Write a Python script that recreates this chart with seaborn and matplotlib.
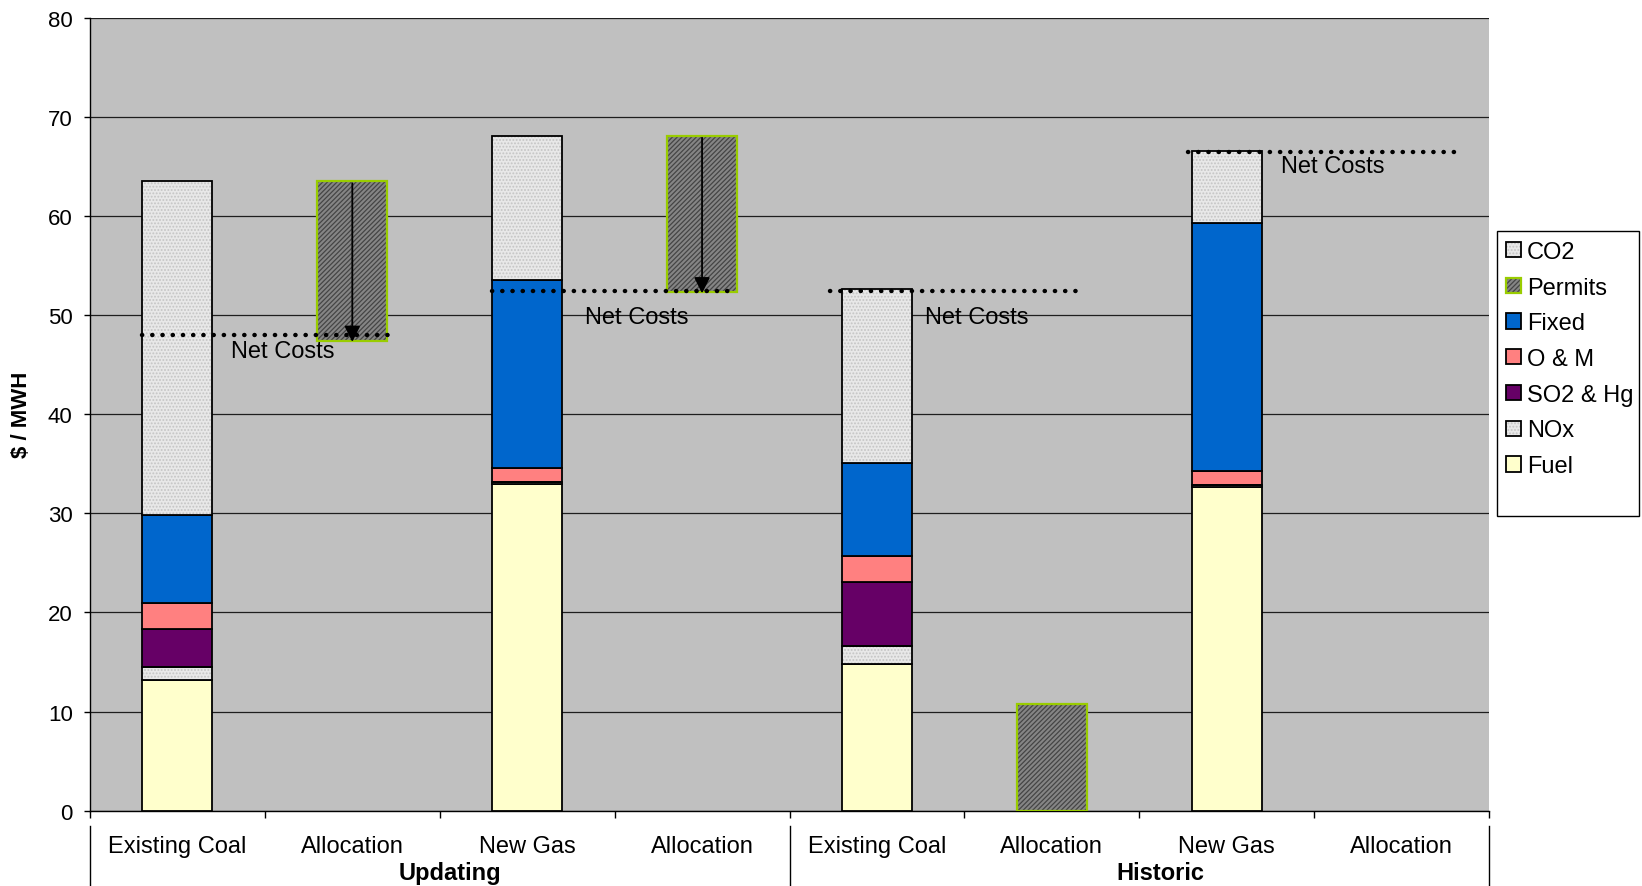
import numpy as np
import matplotlib
matplotlib.use("Agg")
import matplotlib.pyplot as plt
from matplotlib.patches import Patch, Rectangle
from matplotlib.transforms import blended_transform_factory
import seaborn as sns

# ---- data ($ / MWH) ----
slots = ["Updating Existing Coal", "Updating Allocation A", "Updating New Gas", "Updating Allocation B",
         "Historic Existing Coal", "Historic Allocation A", "Historic New Gas", "Historic Allocation B"]
tick_labels = ["Existing Coal", "Allocation", "New Gas", "Allocation",
               "Existing Coal", "Allocation", "New Gas", "Allocation"]
groups = ["Updating", "Historic"]

fuel = [13.2, 0, 33.0, 0, 14.8, 0, 32.7, 0]
nox = [1.3, 0, 0.2, 0, 1.8, 0, 0.2, 0]
so2_hg = [3.8, 0, 0, 0, 6.5, 0, 0, 0]
o_and_m = [2.6, 0, 1.4, 0, 2.6, 0, 1.4, 0]
fixed = [8.9, 0, 18.9, 0, 9.4, 0, 25.0, 0]
co2 = [33.7, 0, 14.6, 0, 17.5, 0, 7.3, 0]

permits = [0, 16.1, 0, 15.8, 0, 10.8, 0, 0]
permit_base = [0, 47.4, 0, 52.3, 0, 0, 0, 0]

net_costs = [48.0, 52.4, 52.4, 66.5]

# ---- style ----
plt.rcParams["font.family"] = ["Liberation Sans", "DejaVu Sans"]
plt.rcParams["hatch.linewidth"] = 0.9

BG = "#C0C0C0"
FUEL_C = "#FFFFCC"
SO2_C = "#660066"
OM_C = "#FF8080"
FIXED_C = "#0066CC"
STIPPLE_FC = "#E8E8E8"
STIPPLE_HC = "#C4C4C4"
PERMIT_FC = "#858585"
PERMIT_HC = "#454545"
PERMIT_EC = "#99CC00"
EDGE_LW = 1.3

fig = plt.figure(figsize=(16.42, 8.87), dpi=100)
ax = fig.add_axes([90 / 1642, 1 - 811.6 / 887, 1399 / 1642, (811.6 - 18.85) / 887])
ax.set_facecolor(BG)

n = len(slots)


def draw_segment(values, base, **style):
    vals = np.asarray(values, float)
    base = np.asarray(base, float)
    mask = vals > 0
    xs = [s for s, m in zip(slots, mask) if m]
    sns.barplot(x=xs, y=vals[mask], order=slots, bottom=base[mask], width=0.4,
                saturation=1, errorbar=None, ax=ax, **style)


stacks = [
    ("solid", fuel, FUEL_C),
    ("stipple", nox, None),
    ("solid", so2_hg, SO2_C),
    ("solid", o_and_m, OM_C),
    ("solid", fixed, FIXED_C),
    ("stipple", co2, None),
]

bottom = np.zeros(n)
for kind, vals, col in stacks:
    if kind == "solid":
        draw_segment(vals, bottom, color=col, edgecolor="black", linewidth=EDGE_LW, zorder=3)
    else:
        draw_segment(vals, bottom, color=STIPPLE_FC, hatch=".....", edgecolor=STIPPLE_HC,
                     linewidth=0, zorder=3)
        draw_segment(vals, bottom, color=STIPPLE_FC, facecolor="none", edgecolor="black",
                     linewidth=EDGE_LW, zorder=3.1)
    bottom = bottom + np.asarray(vals, float)

# permit allocations (floating where they offset the gross cost)
draw_segment(permits, permit_base, color=PERMIT_FC, hatch="///////", edgecolor=PERMIT_HC,
             linewidth=0, zorder=3)
draw_segment(permits, permit_base, color=PERMIT_FC, facecolor="none", edgecolor=PERMIT_EC,
             linewidth=1.6, zorder=3.1)

# net cost lines and labels
net_spans = [(-0.2, 1.21), (1.8, 3.2), (3.73, 5.15), (5.78, 7.3)]
net_text_pos = [(0.305, 46.4), (2.33, 49.8), (4.275, 49.8), (6.31, 65.0)]
for val, (x0, x1), (tx, ty) in zip(net_costs, net_spans, net_text_pos):
    ax.plot([x0, x1], [val, val], color="black", lw=3.2, linestyle=(0, (0.05, 2.25)),
            dash_capstyle="round", zorder=5)
    ax.text(tx, ty, "Net Costs", fontsize=17, ha="left", va="center", zorder=6)

# arrows showing permit value reducing cost
for i in (1, 3):
    top = permit_base[i] + permits[i]
    ax.annotate("", xy=(i, permit_base[i] - 0.1), xytext=(i, top - 0.2),
                arrowprops=dict(arrowstyle="-|>", color="black", lw=1.3,
                                mutation_scale=24, shrinkA=0, shrinkB=0),
                zorder=6)

# axes
ax.set_ylim(0, 80)
ax.set_xlim(-0.5, n - 0.5)
ax.set_yticks(np.arange(0, 81, 10))
ax.yaxis.grid(True, color="#1E1E1E", lw=0.9)
ax.xaxis.grid(False)
ax.set_axisbelow(True)
ax.set_xticks(range(n))
ax.set_xticklabels(tick_labels, fontsize=17)
ax.set_xticks(np.arange(-0.5, n, 1), minor=True)
ax.tick_params(axis="x", which="major", length=0, pad=17.5)
ax.tick_params(axis="x", which="minor", length=5, width=1, direction="out", color="black")
ax.tick_params(axis="y", labelsize=16, length=4, width=1, direction="out", pad=8.5)
ax.set_xlabel("")
ax.set_ylabel("$ / MWH", fontsize=16, fontweight="bold")
ax.yaxis.set_label_coords(-0.0415, 0.5)
for side in ("top", "right"):
    ax.spines[side].set_visible(False)
ax.spines["left"].set_color("black")
ax.spines["bottom"].set_color("black")
ax.spines["left"].set_linewidth(1)
ax.spines["bottom"].set_linewidth(1)

# group labels with separators
trans = blended_transform_factory(ax.transData, ax.transAxes)
for xs in (-0.5, 3.5, 7.5):
    ax.plot([xs, xs], [-0.0194, -0.2], color="black", lw=1, transform=trans, clip_on=False)
for gx, g in zip((1.557, 5.62), groups):
    ax.text(gx, -0.0636, g, transform=trans, ha="center", va="top", fontsize=17,
            fontweight="bold", clip_on=False)

# legend box
fig.add_artist(Rectangle((1497 / 1642, 1 - 517 / 887), (1639 - 1497) / 1642, (517 - 232) / 887,
                         transform=fig.transFigure, facecolor="white", edgecolor="black",
                         lw=1, zorder=1))
handles = [
    (Patch(facecolor=STIPPLE_FC, hatch=".....", edgecolor=STIPPLE_HC, lw=0),
     Patch(facecolor="none", edgecolor="black", lw=1.3)),
    (Patch(facecolor=PERMIT_FC, hatch="///////", edgecolor=PERMIT_HC, lw=0),
     Patch(facecolor="none", edgecolor=PERMIT_EC, lw=1.6)),
    Patch(facecolor=FIXED_C, edgecolor="black", lw=1.3),
    Patch(facecolor=OM_C, edgecolor="black", lw=1.3),
    Patch(facecolor=SO2_C, edgecolor="black", lw=1.3),
    (Patch(facecolor=STIPPLE_FC, hatch=".....", edgecolor=STIPPLE_HC, lw=0),
     Patch(facecolor="none", edgecolor="black", lw=1.3)),
    Patch(facecolor=FUEL_C, edgecolor="black", lw=1.3),
]
labels = ["CO2", "Permits", "Fixed", "O & M", "SO2 & Hg", "NOx", "Fuel"]
leg = fig.legend(handles, labels, loc="upper left", bbox_to_anchor=(1506 / 1642, 1 - 242 / 887),
                 bbox_transform=fig.transFigure, frameon=False, fontsize=17, borderpad=0,
                 handlelength=0.62, handleheight=0.62, handletextpad=0.27, labelspacing=0.58,
                 borderaxespad=0)
leg.set_zorder(2)

fig.savefig("out.png", dpi=100, facecolor="white")
